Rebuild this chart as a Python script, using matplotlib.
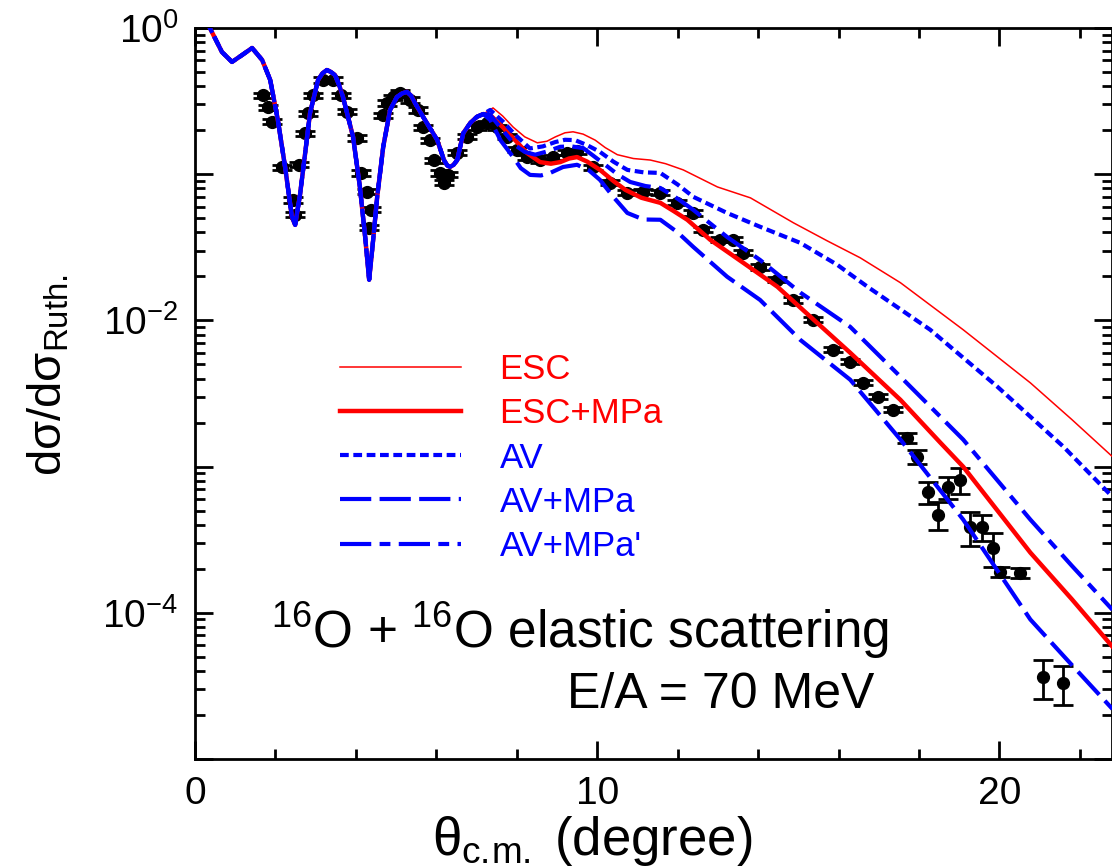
import numpy as np
import matplotlib
matplotlib.use('Agg')
from matplotlib import pyplot as plt
from matplotlib.ticker import MultipleLocator, LogLocator, FuncFormatter, NullFormatter

plt.rcParams['font.family'] = ['Liberation Sans', 'DejaVu Sans']
plt.rcParams['mathtext.fontset'] = 'custom'
plt.rcParams['mathtext.rm'] = 'Liberation Sans'
plt.rcParams['mathtext.it'] = 'Liberation Sans'
plt.rcParams['mathtext.bf'] = 'Liberation Sans:bold'

# part of the calculations where all the curves sit on top of each other
th_common = [0.10, 0.37, 0.67, 0.92, 1.17, 1.42, 1.67, 1.87, 2.06, 2.24, 2.41, 2.49,
             2.61, 2.74, 2.86, 3.06, 3.17, 3.28, 3.38, 3.48, 3.58, 3.68, 3.93, 4.10, 4.23, 4.33, 4.43,
             4.53, 4.68, 4.85, 5.02, 5.15, 5.27, 5.37, 5.47, 5.67, 6.02, 6.19, 6.27, 6.34, 6.43, 6.52,
             6.67, 6.85, 7.01, 7.17]
sig_common = [1.9, 1.0, 0.685, 0.586, 0.653, 0.73, 0.604, 0.441, 0.235, 0.112, 0.051, 0.045,
              0.072, 0.140, 0.262, 0.441, 0.49, 0.516, 0.50, 0.477, 0.41, 0.337, 0.180, 0.0818, 0.0373, 0.019, 0.0356,
              0.070, 0.154, 0.275, 0.337, 0.357, 0.366, 0.345, 0.307, 0.247, 0.172, 0.125, 0.115, 0.112, 0.116, 0.125,
              0.191, 0.225, 0.247, 0.258]

# ESC
th_esc = [7.41, 7.65, 7.91, 8.20, 8.51, 8.75, 8.96, 9.20, 9.40, 9.65, 9.95, 10.20, 10.50, 10.90,
          11.32, 11.70, 12.14, 12.55, 12.99, 13.81, 14.88, 15.72, 16.54, 17.54, 19.10, 20.77, 21.80, 22.81]
sig_esc = [0.284, 0.25, 0.210, 0.18, 0.164, 0.168, 0.180, 0.192, 0.195, 0.188, 0.171, 0.152, 0.136, 0.128,
           0.125, 0.118, 0.107, 0.094, 0.0818, 0.0689, 0.0465, 0.0350, 0.0268, 0.0181, 0.00863, 0.00374,
           0.00210, 0.00117]

# ESC+MPa
th_esc_mpa = [7.34, 7.65, 7.96, 8.25, 8.58, 8.85, 9.08, 9.30, 9.50, 9.75, 10.07, 10.40, 10.70, 11.10,
              11.57, 11.90, 12.24, 12.81, 13.63, 14.48, 15.30, 16.29, 17.54, 18.53, 19.10, 20.77, 21.80, 22.81]
sig_esc_mpa = [0.254, 0.21, 0.171, 0.14, 0.121, 0.118, 0.121, 0.128, 0.131, 0.122, 0.107, 0.090, 0.0782, 0.069,
               0.0637, 0.056, 0.0488, 0.0356, 0.0248, 0.0170, 0.0106, 0.00601, 0.00286, 0.00146, 0.000998,
               0.000258, 0.000124, 5.87e-5]

# AV
th_av = [7.34, 7.65, 7.96, 8.33, 8.65, 8.96, 9.20, 9.45, 9.75, 10.07, 10.40, 10.75, 11.15, 11.57,
         12.00, 12.39, 13.23, 14.05, 15.05, 15.97, 16.72, 18.28, 19.95, 21.59, 22.81]
sig_av = [0.275, 0.23, 0.186, 0.150, 0.155, 0.166, 0.172, 0.171, 0.158, 0.142, 0.122, 0.107, 0.103, 0.102,
          0.085, 0.070, 0.0543, 0.0437, 0.0339, 0.0240, 0.0170, 0.00863, 0.00352, 0.00137, 0.000622]

# AV+MPa
th_av_mpa = [7.34, 7.60, 7.91, 8.10, 8.33, 8.60, 8.83, 9.15, 9.50, 9.80, 10.07, 10.40, 10.75, 11.15,
             11.57, 12.00, 12.39, 13.23, 14.05, 15.05, 16.29, 17.54, 19.10, 20.77, 21.80, 22.81]
sig_av_mpa = [0.235, 0.17, 0.131, 0.110, 0.0989, 0.098, 0.102, 0.112, 0.116, 0.106, 0.0914, 0.070, 0.0543, 0.049,
              0.0488, 0.040, 0.0318, 0.0199, 0.0138, 0.00736, 0.00393, 0.00153, 0.000434, 9.0e-5, 4.4e-5, 2.2e-5]

# AV+MPa'
th_av_mpa2 = [7.34, 7.65, 7.96, 8.20, 8.46, 8.75, 9.08, 9.35, 9.65, 9.90, 10.20, 10.50, 10.82, 11.20,
              11.57, 12.00, 12.39, 13.23, 14.05, 15.05, 16.29, 17.54, 19.10, 20.77, 21.80, 22.81]
sig_av_mpa2 = [0.254, 0.20, 0.158, 0.142, 0.136, 0.143, 0.154, 0.155, 0.151, 0.134, 0.116, 0.100, 0.0885, 0.083,
               0.0805, 0.068, 0.0570, 0.0372, 0.0259, 0.0155, 0.00904, 0.00412, 0.00153, 0.000434, 0.00021,
               0.000105]

# measured points
th_exp = [1.69, 1.82, 1.92, 2.16, 2.44, 2.49, 2.59, 2.74, 2.81, 2.94, 3.18, 3.43, 3.63, 3.78,
          4.03, 4.13, 4.28, 4.38, 4.33, 4.68, 4.78, 4.93, 5.10, 5.35, 5.55, 5.67, 5.85, 5.95,
          6.09, 6.19, 6.29, 6.52, 6.77, 7.01, 7.26, 7.51, 7.76, 8.01, 8.26, 8.58, 8.91, 9.25,
          9.50, 9.90, 10.32, 10.75, 11.14, 11.57, 11.99, 12.39, 12.64, 13.06, 13.38, 13.63,
          14.05, 14.48, 14.88, 15.37, 15.87, 16.29, 16.62, 16.97, 17.36, 17.71, 17.96, 18.23,
          18.48, 18.73, 19.03, 19.28, 19.58, 19.83, 20.02, 20.52, 21.09, 21.59]
sig_exp = [0.348, 0.288, 0.228, 0.112, 0.0667, 0.0527, 0.116, 0.191, 0.262, 0.348, 0.441, 0.441, 0.348, 0.267,
           0.177, 0.102, 0.0757, 0.0570, 0.0430, 0.254, 0.307, 0.337, 0.360, 0.322, 0.275, 0.210, 0.171, 0.125,
           0.102, 0.0872, 0.0989, 0.140, 0.180, 0.210, 0.224, 0.210, 0.180, 0.147, 0.131, 0.125, 0.131, 0.140,
           0.144, 0.112, 0.0872, 0.0745, 0.0757, 0.0745, 0.0637, 0.0543, 0.0416, 0.0356, 0.0356, 0.0290,
           0.0232, 0.0190, 0.0138, 0.0101, 0.00630, 0.00521, 0.00374, 0.00301, 0.00245, 0.00158, 0.00117, 0.000673,
           0.000469, 0.000729, 0.000813, 0.000388, 0.000388, 0.000279, 0.000191, 0.000188, 3.66e-5, 3.33e-5]
rel_err = [0.04] * 63 + [0.08, 0.11, 0.17, 0.22, 0.17, 0.2, 0.26, 0.2, 0.26, 0.08, 0.08, 0.3, 0.3]

fig = plt.figure(figsize=(11.12, 8.66), dpi=100)
ax = fig.add_axes([195 / 1112, 107 / 866, 917 / 1112, 731 / 866])

sig_exp = np.array(sig_exp)
ax.errorbar(th_exp, sig_exp, yerr=sig_exp * np.array(rel_err), fmt='o', color='black',
            ms=8.5, elinewidth=2, capsize=7, capthick=2, zorder=2)


def full(tx, ty):
    return np.concatenate([th_common, tx]), np.concatenate([sig_common, ty])


x, y = full(th_esc, sig_esc)
ax.plot(x, y, color='red', lw=1.1, label='ESC', zorder=3)
x, y = full(th_esc_mpa, sig_esc_mpa)
ax.plot(x, y, color='red', lw=3.2, label='ESC+MPa', zorder=3)
x, y = full(th_av, sig_av)
ax.plot(x, y, color='blue', lw=3, dashes=(2.1, 1.1), label='AV', zorder=4)
x, y = full(th_av_mpa, sig_av_mpa)
ax.plot(x, y, color='blue', lw=3, dashes=(7.5, 2), label='AV+MPa', zorder=4)
x, y = full(th_av_mpa2, sig_av_mpa2)
ax.plot(x, y, color='blue', lw=3, dashes=(7.5, 2, 2.6, 2), label="AV+MPa'", zorder=4)

ax.set_yscale('log')
ax.set_xlim(0, 22.8)
ax.set_ylim(1e-5, 1)

ax.xaxis.set_major_locator(MultipleLocator(10))
ax.xaxis.set_minor_locator(MultipleLocator(2))
ax.yaxis.set_major_locator(LogLocator(base=10, numticks=20))
ax.yaxis.set_minor_locator(LogLocator(base=10, subs=np.arange(2, 10), numticks=20))
ax.yaxis.set_minor_formatter(NullFormatter())


def ylab(v, pos):
    e = int(round(np.log10(v)))
    if e % 2:
        return ''
    return r'$10^{%d}$' % e


ax.yaxis.set_major_formatter(FuncFormatter(ylab))
ax.tick_params(which='both', direction='in', top=True, right=True, width=2)
ax.tick_params(which='major', length=13, labelsize=28, pad=12)
ax.tick_params(which='minor', length=7)
for s in ax.spines.values():
    s.set_linewidth(2)

ax.set_xlabel(r'$\theta_{\mathrm{c.\!m.}}$ (degree)', fontsize=38)
ax.xaxis.set_label_coords(0.433, -0.075)
ax.set_ylabel(r'd$\sigma$/d$\sigma_{\mathrm{Ruth.}}$', fontsize=34)
ax.yaxis.set_label_coords(-0.135, 0.525)

ax.legend(loc='upper left', bbox_to_anchor=(0.158, 0.555), frameon=False, fontsize=25,
          handlelength=3.5, handletextpad=1.1, labelspacing=0.32, borderpad=0,
          borderaxespad=0, labelcolor='linecolor')

ax.text(0.42, 0.175, r'$^{16}$O + $^{16}$O elastic scattering', transform=ax.transAxes,
        fontsize=37, ha='center', va='center')
ax.text(0.573, 0.088, 'E/A = 70 MeV', transform=ax.transAxes,
        fontsize=36, ha='center', va='center')

plt.savefig('out.png', dpi=100)
